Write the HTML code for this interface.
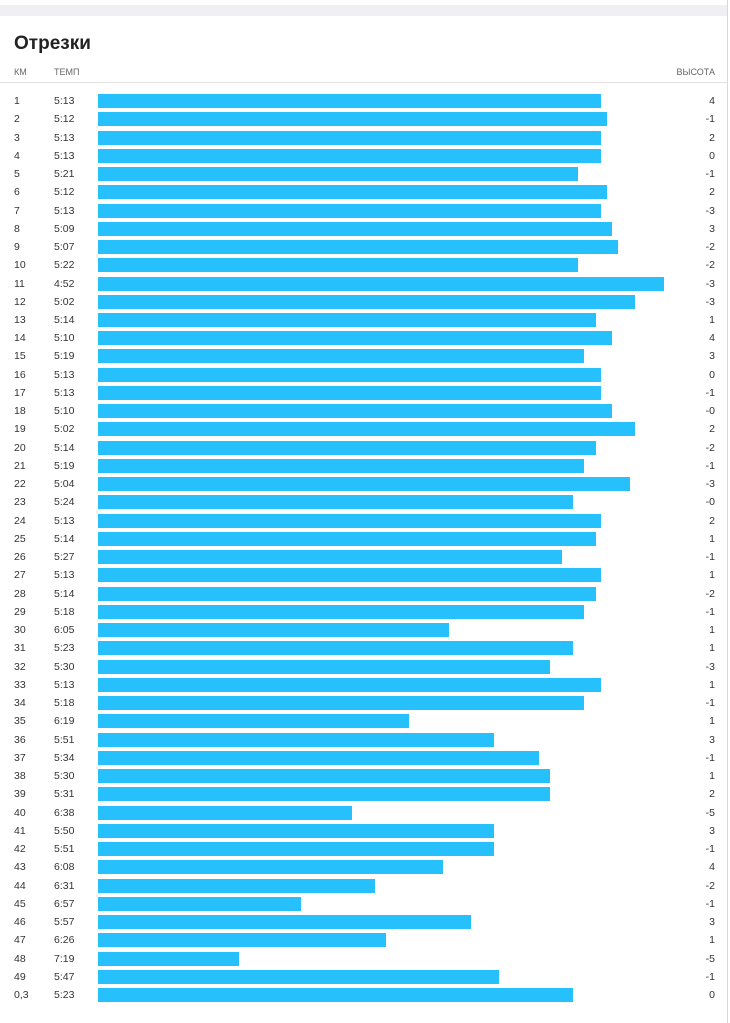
<!DOCTYPE html><html><head><meta charset="utf-8"><style>
body{margin:0;width:730px;height:1023px;background:#fff;font-family:"Liberation Sans",sans-serif;position:relative;overflow:hidden}
.band{position:absolute;left:0;top:5px;width:727px;height:11px;background:#f0f0f4}
.vline{position:absolute;left:727px;top:0;width:1px;height:1023px;background:#d8d8d8}
.t{position:absolute;left:14px;top:33px;font-size:19px;font-weight:bold;color:#222}
.h{position:absolute;top:67px;font-size:9px;color:#666}
.hl{position:absolute;left:0;top:82px;width:727px;height:1px;background:#e2e2e2}
.r{position:absolute;left:0;width:727px;height:14px;font-size:10.5px;color:#333}
.r span{position:absolute;top:0;line-height:14px}
.b{position:absolute;left:98px;top:0;height:14px;background:#26c1fc}
</style></head><body>
<div class="band"></div><div class="vline"></div>
<div class="t">Отрезки</div>
<div class="h" style="left:14px">КМ</div><div class="h" style="left:54px">ТЕМП</div><div class="h" style="right:15px">ВЫСОТА</div>
<div class="hl"></div>
<div id="rows"></div>
<script>
var d=[["1","5:13",601,"4"],["2","5:12",607,"-1"],["3","5:13",601,"2"],["4","5:13",601,"0"],["5","5:21",578,"-1"],["6","5:12",607,"2"],["7","5:13",601,"-3"],["8","5:09",612,"3"],["9","5:07",618,"-2"],["10","5:22",578,"-2"],["11","4:52",664,"-3"],["12","5:02",635,"-3"],["13","5:14",596,"1"],["14","5:10",612,"4"],["15","5:19",584,"3"],["16","5:13",601,"0"],["17","5:13",601,"-1"],["18","5:10",612,"-0"],["19","5:02",635,"2"],["20","5:14",596,"-2"],["21","5:19",584,"-1"],["22","5:04",630,"-3"],["23","5:24",573,"-0"],["24","5:13",601,"2"],["25","5:14",596,"1"],["26","5:27",562,"-1"],["27","5:13",601,"1"],["28","5:14",596,"-2"],["29","5:18",584,"-1"],["30","6:05",449,"1"],["31","5:23",573,"1"],["32","5:30",550,"-3"],["33","5:13",601,"1"],["34","5:18",584,"-1"],["35","6:19",409,"1"],["36","5:51",494,"3"],["37","5:34",539,"-1"],["38","5:30",550,"1"],["39","5:31",550,"2"],["40","6:38",352,"-5"],["41","5:50",494,"3"],["42","5:51",494,"-1"],["43","6:08",443,"4"],["44","6:31",375,"-2"],["45","6:57",301,"-1"],["46","5:57",471,"3"],["47","6:26",386,"1"],["48","7:19",239,"-5"],["49","5:47",499,"-1"],["0,3","5:23",573,"0"]];
var h="";d.forEach(function(r,i){var y=94+i*18.245;h+='<div class="r" style="top:'+y.toFixed(1)+'px"><span style="left:14px">'+r[0]+'</span><span style="left:54px">'+r[1]+'</span><div class="b" style="width:'+(r[2]-98)+'px"></div><span style="right:12px">'+r[3]+'</span></div>';});
document.getElementById("rows").innerHTML=h;
</script>
</body></html>
